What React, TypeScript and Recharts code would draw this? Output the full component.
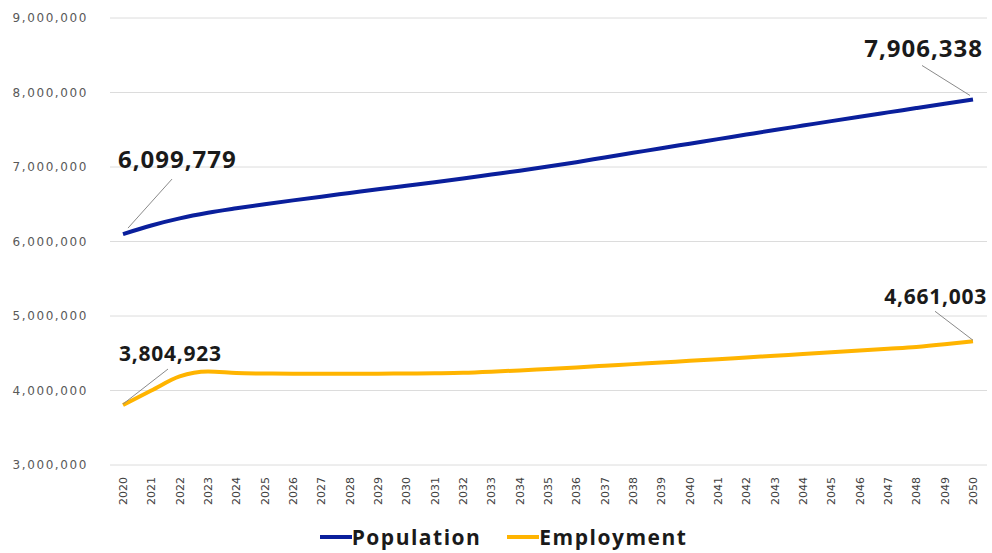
import { LineChart, Line, XAxis, YAxis, CartesianGrid, Legend, LabelList } from "recharts";

const years = [
  "2020", "2021", "2022", "2023", "2024", "2025", "2026", "2027", "2028", "2029", "2030",
  "2031", "2032", "2033", "2034", "2035", "2036", "2037", "2038", "2039", "2040",
  "2041", "2042", "2043", "2044", "2045", "2046", "2047", "2048", "2049", "2050",
];

const population = [
  6099779, 6215000, 6310000, 6385000, 6445000, 6500000, 6552000, 6602000, 6651000, 6700000, 6748000,
  6796000, 6846000, 6898000, 6950000, 7006000, 7065000, 7128000, 7190000, 7252000, 7313000,
  7374000, 7435000, 7496000, 7556000, 7616000, 7675000, 7733000, 7791000, 7849000, 7906338,
];

const employment = [
  3804923, 4000000, 4190000, 4255000, 4235000, 4228000, 4225000, 4225000, 4225000, 4226000, 4228000,
  4232000, 4238000, 4252000, 4270000, 4290000, 4310000, 4332000, 4354000, 4376000, 4398000,
  4420000, 4443000, 4466000, 4489000, 4512000, 4536000, 4560000, 4585000, 4620000, 4661003,
];

const yTicks = [3000000, 4000000, 5000000, 6000000, 7000000, 8000000, 9000000];

const BLUE = "#0a1f9c";
const GOLD = "#ffb400";

const data = years.map((year, i) => ({ year, population: population[i], employment: employment[i] }));

const fmt = (v: number) => v.toLocaleString("en-US");

// label + leader line only on first and last points
const makeEndLabel = (big: boolean, first: number[], last: number[]) => (props: any) => {
  const { x, y, index, value } = props;
  if (index !== 0 && index !== years.length - 1) return null;
  const isFirst = index === 0;
  const o = isFirst ? first : last;
  return (
    <g>
      <line x1={x + o[0]} y1={y + o[1]} x2={x + o[2]} y2={y + o[3]} stroke="#8a8a8a" strokeWidth={1} />
      <text
        x={x + o[4]}
        y={y + o[5]}
        textAnchor={isFirst ? "start" : "end"}
        dominantBaseline="central"
        fontFamily="'Open Sans', sans-serif"
        fontWeight={700}
        fontSize={big ? 24 : 21}
        letterSpacing={big ? 1 : 0.75}
        fill="#1a1a1a"
      >
        {fmt(value)}
      </text>
    </g>
  );
};

const YearTick = (props: any) => {
  const { x, y, payload } = props;
  return (
    <text
      x={x}
      y={y}
      dy="0.35em"
      transform={`rotate(-90, ${x}, ${y})`}
      textAnchor="end"
      fontFamily="'DejaVu Sans', sans-serif"
      fontSize={11}
      fill="#404040"
    >
      {payload.value}
    </text>
  );
};

const LegendBox = () => (
  <div
    style={{
      display: "flex",
      justifyContent: "center",
      alignItems: "center",
      height: 36,
      paddingTop: 18,
      boxSizing: "border-box",
      fontFamily: "'Open Sans', sans-serif",
      fontWeight: 700,
      fontSize: 21,
      letterSpacing: 1.5,
      color: "#1a1a1a",
      marginLeft: 20,
    }}
  >
    {[
      { name: "Population", color: BLUE },
      { name: "Employment", color: GOLD },
    ].map((item, i) => (
      <div key={item.name} style={{ display: "flex", alignItems: "center", marginLeft: i ? 26 : 0 }}>
        <span style={{ display: "inline-block", width: 32, height: 4, background: item.color }} />
        <span>{item.name}</span>
      </div>
    ))}
  </div>
);

export default function App() {
  return (
    <div style={{ position: "absolute", left: 0, top: 0, width: 992, height: 553, background: "#ffffff" }}>
      <LineChart width={992} height={553} data={data} margin={{ top: 18, right: 5, bottom: 7, left: 0 }}>
        <CartesianGrid vertical={false} stroke="#dcdcdc" />
        <XAxis
          dataKey="year"
          interval={0}
          padding={{ left: 13, right: 14 }}
          axisLine={false}
          tickLine={false}
          tickSize={0}
          tickMargin={12}
          height={45}
          tick={<YearTick />}
        />
        <YAxis
          domain={[3000000, 9000000]}
          ticks={yTicks}
          width={110}
          axisLine={false}
          tickLine={false}
          tickSize={0}
          tickMargin={22}
          tickFormatter={fmt}
          tick={{ fontFamily: "'DejaVu Sans', sans-serif", fontSize: 12, fill: "#595959", letterSpacing: 1.6 }}
        />
        <Legend verticalAlign="bottom" height={36} content={<LegendBox />} />
        <Line
          type="monotone"
          dataKey="population"
          stroke={BLUE}
          strokeWidth={4}
          dot={false}
          isAnimationActive={false}
        >
          <LabelList
            dataKey="population"
            content={makeEndLabel(true, [5, -6, 49, -55, -5, -76], [-3, -4, -51, -34, 10, -52])}
          />
        </Line>
        <Line
          type="monotone"
          dataKey="employment"
          stroke={GOLD}
          strokeWidth={4}
          dot={false}
          isAnimationActive={false}
        >
          <LabelList
            dataKey="employment"
            content={makeEndLabel(false, [0, -1, 45, -36, -4, -52], [0, -1, -38, -30, 14, -45])}
          />
        </Line>
      </LineChart>
    </div>
  );
}
